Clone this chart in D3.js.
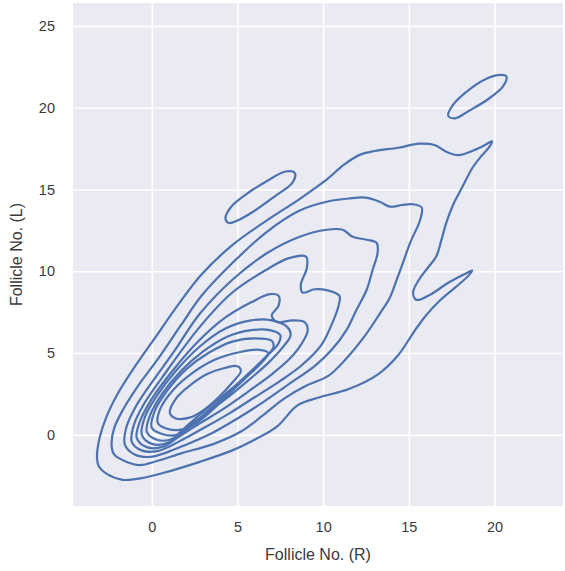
<!DOCTYPE html>
<html><head><meta charset="utf-8">
<script src="https://cdn.jsdelivr.net/npm/d3@7"></script>
<style>body{margin:0;background:#fff}svg{display:block}</style>
</head><body>
<svg id="chart" width="565" height="571"></svg>
<script>
// Axis ticks
const xTicks = [0, 5, 10, 15, 20];
const yTicks = [0, 5, 10, 15, 20, 25];
const xLabel = "Follicle No. (R)";
const yLabel = "Follicle No. (L)";
const xDomain = [-4.6, 24.0];
const yDomain = [-4.35, 26.4];

// KDE iso-contours as [x, y] in data units
const level1 = [[-3.2,-1.4],[-3.05,-0.2],[-2.65,1.1],[-2.0,2.5],[-1.1,4.0],[0.1,5.8],[1.5,7.9],[2.9,9.8],[4.7,11.6],[6.7,13.1],[8.6,14.4],[10.2,15.6],[11.2,16.5],[12.1,17.1],[13.0,17.35],[14.4,17.55],[15.6,17.8],[16.5,17.72],[17.2,17.3],[17.9,17.1],[18.8,17.4],[19.5,17.75],[19.85,17.95],[19.7,17.6],[19.2,17.0],[18.7,16.3],[18.1,15.1],[17.6,14.1],[17.2,13.0],[16.9,11.9],[16.6,10.9],[16.1,10.2],[15.6,9.5],[15.25,8.7],[15.45,8.25],[16.3,8.6],[17.3,9.3],[18.3,9.85],[18.7,10.05],[18.5,9.75],[17.7,9.0],[16.8,8.2],[16.0,7.3],[15.3,6.3],[14.4,4.9],[13.2,3.7],[11.5,2.8],[9.8,2.3],[8.5,1.8],[7.3,0.5],[6.0,-0.3],[4.7,-0.95],[2.8,-1.65],[0.6,-2.35],[-0.6,-2.65],[-1.7,-2.75],[-2.6,-2.4],[-3.1,-1.9]];
const islandA = [[4.3,13.2],[4.6,13.9],[5.5,14.7],[6.7,15.5],[7.8,16.1],[8.35,16.0],[8.2,15.4],[7.2,14.6],[6.0,13.7],[5.0,13.1],[4.5,12.95]];
const islandB = [[17.3,19.5],[17.6,20.2],[18.4,21.0],[19.5,21.75],[20.35,22.0],[20.7,21.9],[20.5,21.3],[19.6,20.5],[18.5,19.8],[17.7,19.35]];
const level2 = [[-2.35,-0.6],[-2.2,0.4],[-1.65,1.6],[-0.8,3.0],[0.4,4.7],[1.7,6.7],[2.9,8.5],[4.7,10.5],[6.7,12.4],[8.6,13.7],[10.2,14.25],[11.5,14.45],[12.5,14.5],[13.3,14.25],[13.9,13.95],[14.6,14.05],[15.2,14.1],[15.75,13.9],[15.65,13.1],[15.1,11.8],[14.65,10.5],[14.3,9.5],[13.9,8.4],[13.3,7.4],[12.4,6.0],[11.3,4.6],[10.3,3.6],[9.0,3.0],[7.7,2.2],[6.5,1.2],[5.2,0.2],[3.5,-0.6],[1.8,-1.1],[0.3,-1.6],[-0.7,-1.85],[-1.6,-1.6],[-2.2,-1.2]];
const level3 = [[-1.57,-0.61],[-1.5,0.4],[-0.95,1.7],[0.0,3.2],[1.3,5.1],[2.8,7.4],[4.72,9.5],[6.71,11.1],[8.63,12.11],[10.2,12.54],[11.14,12.54],[11.72,12.11],[12.54,11.93],[13.12,11.74],[13.18,11.13],[12.89,10.09],[12.54,8.87],[11.95,7.65],[11.37,6.42],[10.5,5.2],[9.5,4.2],[8.0,3.1],[6.5,2.0],[5.0,1.0],[3.5,0.1],[2.0,-0.6],[0.8,-1.1],[-0.1,-1.35],[-1.0,-1.2]];
const level4 = [[-1.17,-0.43],[-1.05,0.6],[-0.45,1.9],[0.6,3.5],[2.8,6.6],[4.7,8.7],[6.7,10.1],[8.0,10.8],[9.0,10.9],[9.05,10.2],[8.7,9.2],[8.8,8.7],[9.5,8.9],[10.2,8.85],[10.95,8.5],[10.9,7.9],[10.6,7.0],[9.9,5.5],[8.8,4.3],[7.5,3.3],[6.0,2.3],[4.5,1.3],[3.0,0.4],[1.6,-0.4],[0.3,-1.0],[-0.6,-0.95]];
const level5 = [[-0.88,-0.18],[-0.7,0.8],[0.0,2.2],[1.2,3.9],[2.6,5.6],[4.2,7.1],[5.8,8.1],[6.9,8.6],[7.4,8.5],[7.4,7.9],[7.0,7.3],[7.3,6.9],[8.2,7.0],[8.9,6.9],[9.1,6.4],[8.7,5.5],[8.0,4.6],[7.0,3.7],[5.7,2.7],[4.2,1.6],[2.8,0.7],[1.6,-0.1],[0.64,-0.73],[-0.3,-0.75]];
const level6 = [[-0.58,0.0],[-0.4,1.1],[0.3,2.4],[1.4,3.9],[2.8,5.4],[4.3,6.5],[5.8,7.0],[7.0,7.0],[7.9,6.6],[8.1,6.1],[7.6,5.3],[6.8,4.4],[5.6,3.3],[4.2,2.1],[2.9,1.1],[1.8,0.3],[0.93,-0.49],[0.0,-0.55]];
const level7 = [[-0.29,0.18],[-0.1,1.2],[0.6,2.5],[1.7,3.9],[3.0,5.1],[4.4,6.0],[5.8,6.4],[6.9,6.4],[7.5,6.1],[7.4,5.6],[6.6,4.7],[5.5,3.6],[4.3,2.5],[3.1,1.5],[2.1,0.6],[1.22,-0.24],[0.3,-0.3]];
const level8 = [[0.0,0.43],[0.15,1.4],[0.9,2.7],[2.0,4.0],[3.3,5.0],[4.7,5.7],[6.0,5.9],[7.0,5.75],[7.1,5.35],[6.4,4.5],[5.3,3.4],[4.2,2.3],[3.1,1.3],[2.3,0.55],[1.5,0.0],[0.6,0.05]];
const level9 = [[0.35,0.73],[0.5,1.6],[1.3,2.8],[2.4,3.8],[3.7,4.6],[5.1,5.05],[6.3,5.2],[6.8,5.0],[6.4,4.4],[5.4,3.4],[4.3,2.3],[3.3,1.3],[2.5,0.65],[1.6,0.3],[0.8,0.4]];
const level10 = [[1.05,1.35],[1.4,2.2],[2.2,3.0],[3.2,3.7],[4.3,4.1],[5.0,4.2],[5.2,3.9],[4.7,3.2],[3.9,2.3],[3.0,1.5],[2.2,1.05],[1.4,1.0]];

const contours = [level1, islandA, islandB, level2, level3, level4, level5, level6, level7, level8, level9, level10];

const svg = d3.select("#chart");
const m = {left: 73, right: 2, top: 3, bottom: 65};
const W = 565, H = 571;
const x = d3.scaleLinear().domain(xDomain).range([m.left, W - m.right]);
const y = d3.scaleLinear().domain(yDomain).range([H - m.bottom, m.top]);

svg.append("rect").attr("x", m.left).attr("y", m.top)
  .attr("width", W - m.right - m.left).attr("height", H - m.bottom - m.top)
  .attr("fill", "#eaeaf2");

svg.append("clipPath").attr("id", "clip").append("rect")
  .attr("x", m.left).attr("y", m.top)
  .attr("width", W - m.right - m.left).attr("height", H - m.bottom - m.top);

const gx = svg.append("g").attr("transform", `translate(0,${H - m.bottom})`)
  .call(d3.axisBottom(x).tickValues(xTicks).tickSize(-(H - m.bottom - m.top)).tickPadding(16));
const gy = svg.append("g").attr("transform", `translate(${m.left},0)`)
  .call(d3.axisLeft(y).tickValues(yTicks).tickSize(-(W - m.right - m.left)).tickPadding(18));
[gx, gy].forEach(g => {
  g.select(".domain").remove();
  g.selectAll(".tick line").attr("stroke", "#ffffff").attr("stroke-width", 1.6);
  g.selectAll(".tick text").attr("fill", "#3a3a3a")
    .style("font-family", "'Liberation Sans', Arial, sans-serif").style("font-size", "14.5px");
});

const line = d3.line().x(d => x(d[0])).y(d => y(d[1])).curve(d3.curveCatmullRomClosed.alpha(0.5));
svg.append("g").attr("clip-path", "url(#clip)")
  .selectAll("path").data(contours).join("path")
  .attr("d", line).attr("fill", "none")
  .attr("stroke", "#4c72b0").attr("stroke-width", 2.2).attr("stroke-linejoin", "round");

svg.append("text").attr("x", (m.left + W - m.right) / 2).attr("y", 560)
  .attr("text-anchor", "middle").attr("fill", "#3a3a3a")
  .style("font-family", "'Liberation Sans', Arial, sans-serif").style("font-size", "16px")
  .text(xLabel);
svg.append("text").attr("transform", `translate(22,${(m.top + H - m.bottom) / 2}) rotate(-90)`)
  .attr("text-anchor", "middle").attr("fill", "#3a3a3a")
  .style("font-family", "'Liberation Sans', Arial, sans-serif").style("font-size", "16px")
  .text(yLabel);
</script>
</body></html>
